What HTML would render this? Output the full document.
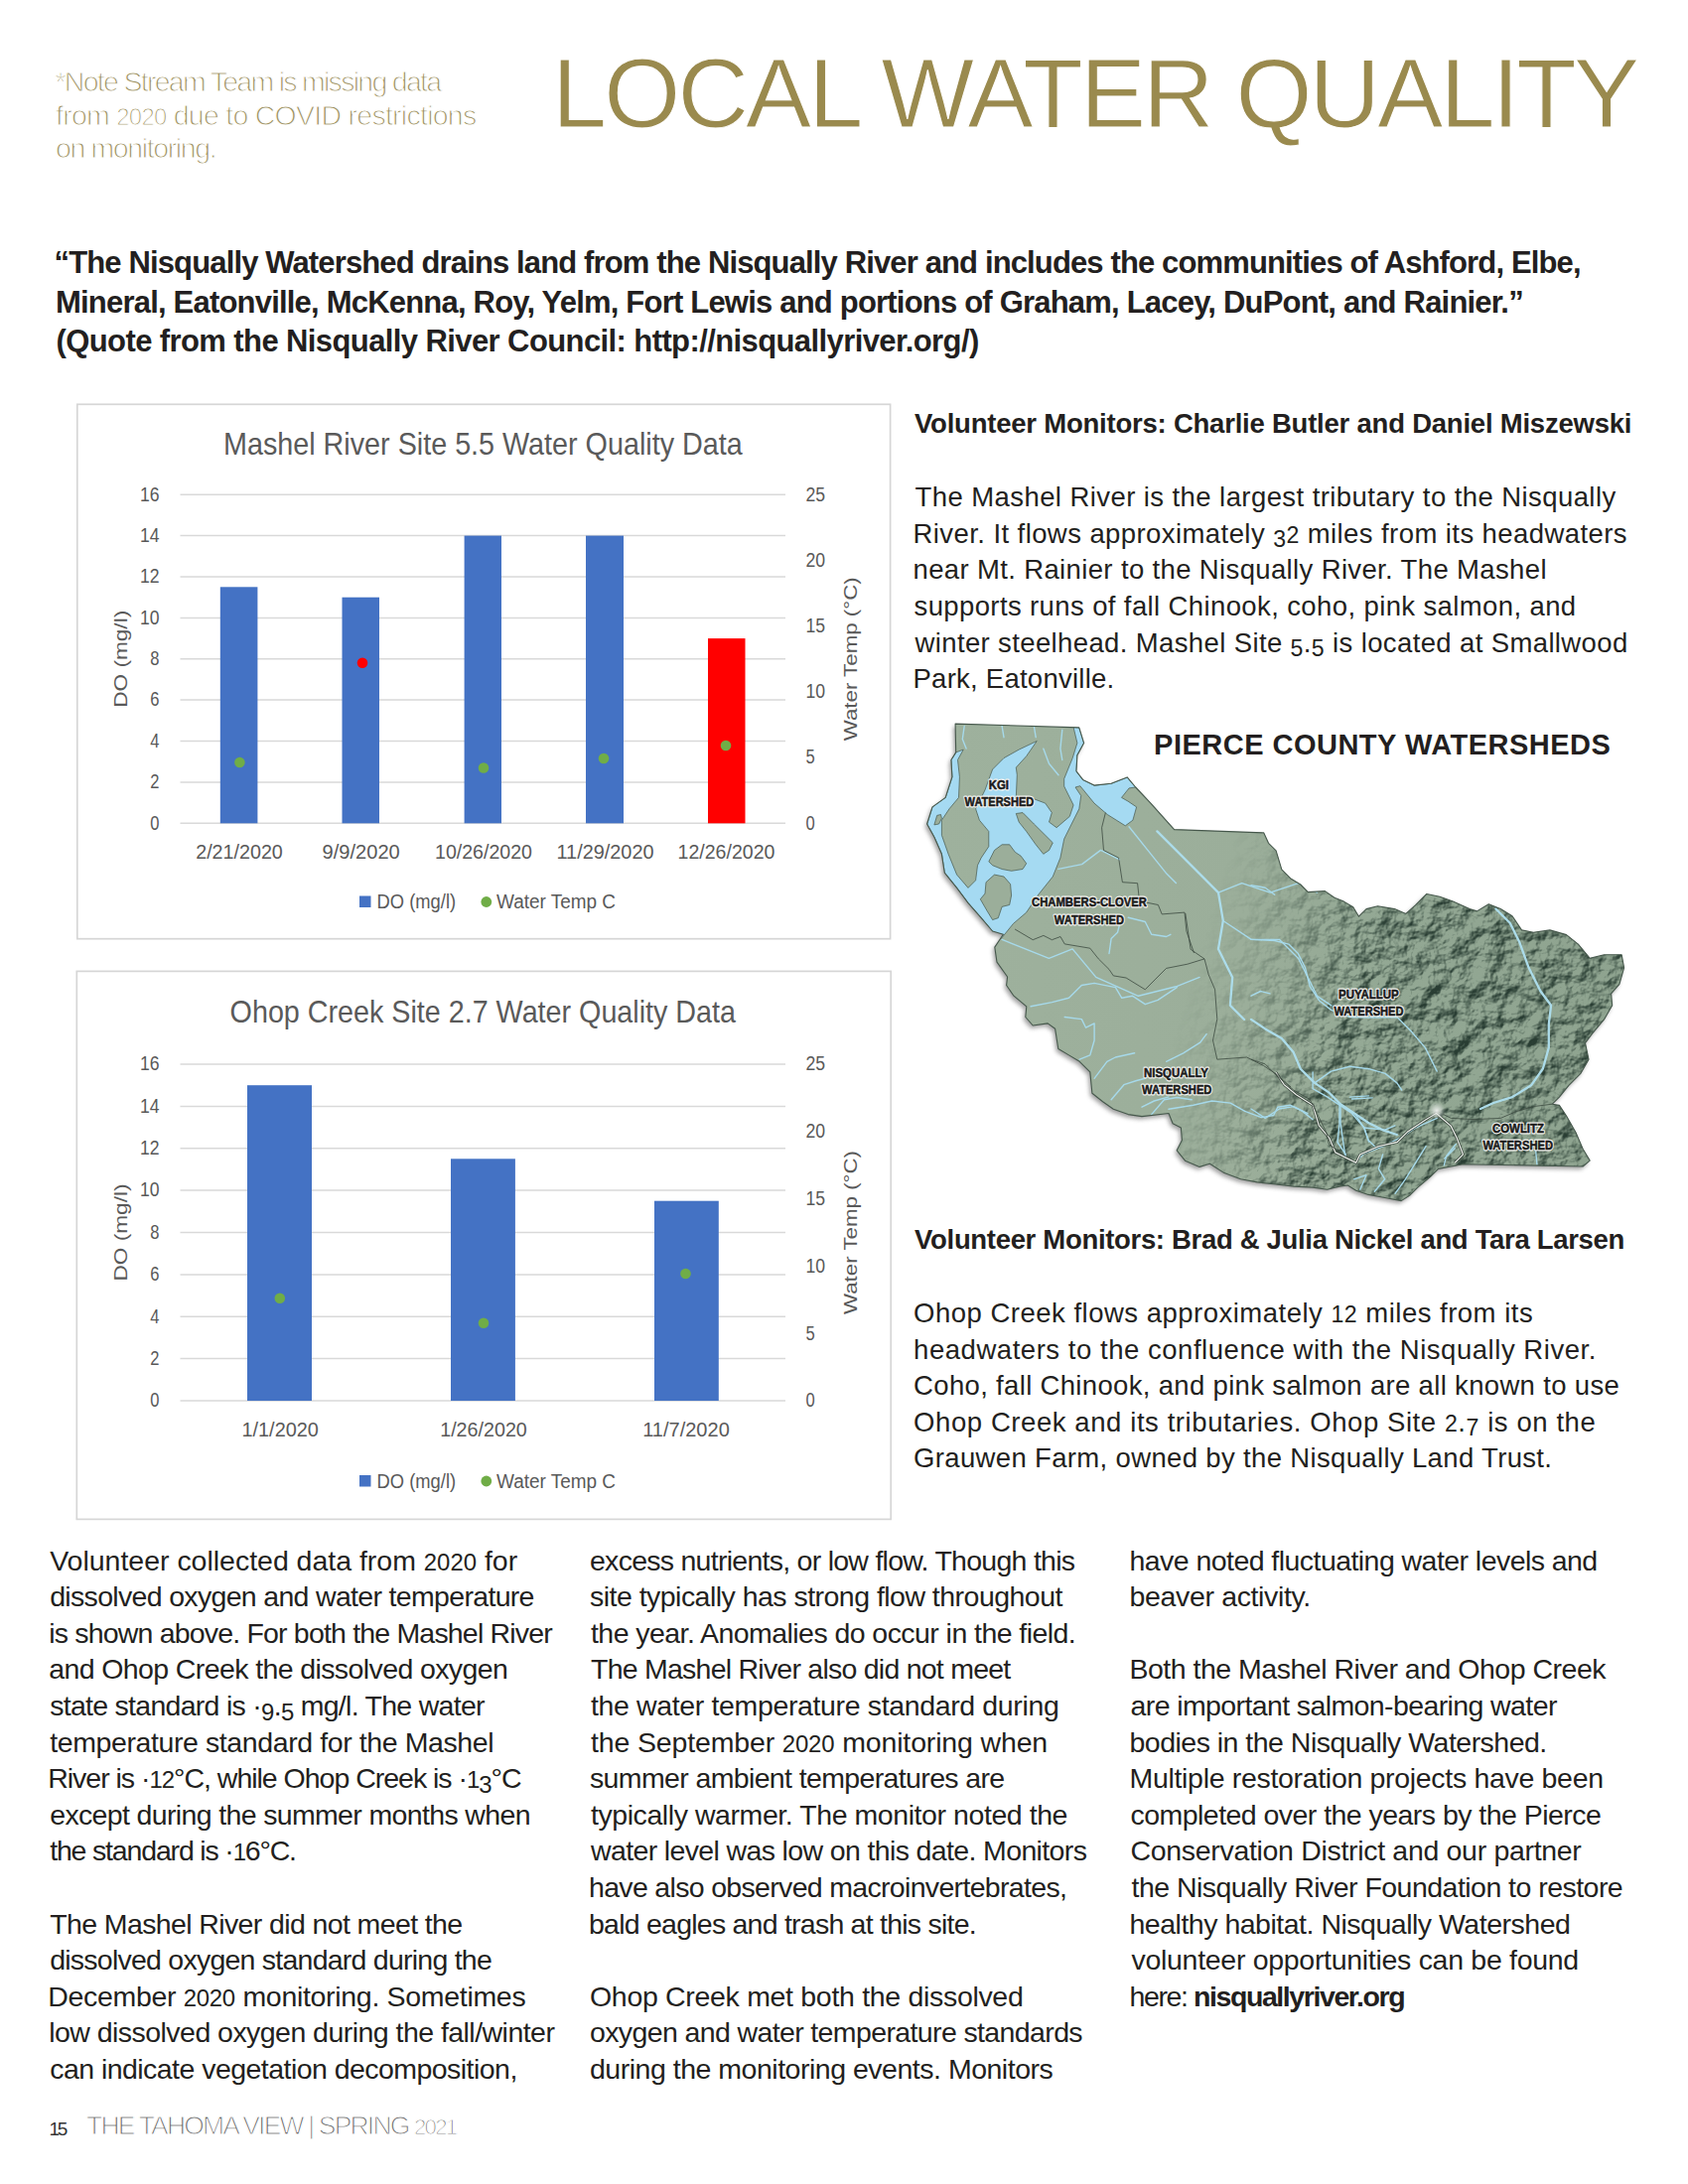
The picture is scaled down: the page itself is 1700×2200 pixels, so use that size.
<!DOCTYPE html>
<html lang="en"><head><meta charset="utf-8"><title>Local Water Quality</title>
<style>

html,body{margin:0;padding:0;background:#fff;}
#pg{position:relative;width:1700px;height:2200px;overflow:hidden;background:#fff;font-family:"Liberation Sans",sans-serif;}
.ln{position:absolute;white-space:nowrap;line-height:1;color:#231f20;}
.b{font-size:28.5px;}
.r{font-size:27.5px;}
.h{font-size:27.5px;font-weight:700;}
.q{font-size:31px;font-weight:700;}
.note{font-size:28.5px;color:#9c8f5e;-webkit-text-stroke:1.05px #fff;}
.title{font-size:99px;color:#9a8a4e;-webkit-text-stroke:1px #fff;}
.mt{font-size:29px;font-weight:700;}
.fn{font-size:19px;color:#333;}
.ft{font-size:26.5px;color:#6a6a6a;-webkit-text-stroke:1.1px #fff;}
svg{position:absolute;overflow:visible;}
svg text{font-family:"Liberation Sans",sans-serif;}
i.o{font-style:normal;font-size:84%;}
i.d{position:relative;top:0.2em;}

</style></head>
<body><div id="pg">
<svg id="charts" width="1700" height="2200" viewBox="0 0 1700 2200" style="left:0;top:0">
<rect x="77.8" y="407.3" width="818.8" height="538.4" fill="#fff" stroke="#d6d6d6" stroke-width="1.7"/>
<text x="225.0" y="458.0" font-size="30.5" fill="#5a5a5a" textLength="522.7" lengthAdjust="spacingAndGlyphs">Mashel River Site 5.5 Water Quality Data</text>
<line x1="181.5" y1="829.3" x2="791.0" y2="829.3" stroke="#d9d9d9" stroke-width="1.5"/>
<text x="160.5" y="835.6" font-size="20.5" fill="#595959" text-anchor="end" textLength="9.2" lengthAdjust="spacingAndGlyphs">0</text>
<line x1="181.5" y1="787.9" x2="791.0" y2="787.9" stroke="#d9d9d9" stroke-width="1.5"/>
<text x="160.5" y="794.2" font-size="20.5" fill="#595959" text-anchor="end" textLength="9.2" lengthAdjust="spacingAndGlyphs">2</text>
<line x1="181.5" y1="746.5" x2="791.0" y2="746.5" stroke="#d9d9d9" stroke-width="1.5"/>
<text x="160.5" y="752.8" font-size="20.5" fill="#595959" text-anchor="end" textLength="9.2" lengthAdjust="spacingAndGlyphs">4</text>
<line x1="181.5" y1="705.1" x2="791.0" y2="705.1" stroke="#d9d9d9" stroke-width="1.5"/>
<text x="160.5" y="711.4" font-size="20.5" fill="#595959" text-anchor="end" textLength="9.2" lengthAdjust="spacingAndGlyphs">6</text>
<line x1="181.5" y1="663.8" x2="791.0" y2="663.8" stroke="#d9d9d9" stroke-width="1.5"/>
<text x="160.5" y="670.0" font-size="20.5" fill="#595959" text-anchor="end" textLength="9.2" lengthAdjust="spacingAndGlyphs">8</text>
<line x1="181.5" y1="622.4" x2="791.0" y2="622.4" stroke="#d9d9d9" stroke-width="1.5"/>
<text x="160.5" y="628.7" font-size="20.5" fill="#595959" text-anchor="end" textLength="19.6" lengthAdjust="spacingAndGlyphs">10</text>
<line x1="181.5" y1="581.0" x2="791.0" y2="581.0" stroke="#d9d9d9" stroke-width="1.5"/>
<text x="160.5" y="587.3" font-size="20.5" fill="#595959" text-anchor="end" textLength="19.6" lengthAdjust="spacingAndGlyphs">12</text>
<line x1="181.5" y1="539.6" x2="791.0" y2="539.6" stroke="#d9d9d9" stroke-width="1.5"/>
<text x="160.5" y="545.9" font-size="20.5" fill="#595959" text-anchor="end" textLength="19.6" lengthAdjust="spacingAndGlyphs">14</text>
<line x1="181.5" y1="498.2" x2="791.0" y2="498.2" stroke="#d9d9d9" stroke-width="1.5"/>
<text x="160.5" y="504.5" font-size="20.5" fill="#595959" text-anchor="end" textLength="19.6" lengthAdjust="spacingAndGlyphs">16</text>
<text x="811.5" y="504.5" font-size="20.5" fill="#595959" textLength="19.6" lengthAdjust="spacingAndGlyphs">25</text>
<text x="811.5" y="570.7" font-size="20.5" fill="#595959" textLength="19.6" lengthAdjust="spacingAndGlyphs">20</text>
<text x="811.5" y="636.9" font-size="20.5" fill="#595959" textLength="19.6" lengthAdjust="spacingAndGlyphs">15</text>
<text x="811.5" y="703.2" font-size="20.5" fill="#595959" textLength="19.6" lengthAdjust="spacingAndGlyphs">10</text>
<text x="811.5" y="769.4" font-size="20.5" fill="#595959" textLength="9.2" lengthAdjust="spacingAndGlyphs">5</text>
<text x="811.5" y="835.6" font-size="20.5" fill="#595959" textLength="9.2" lengthAdjust="spacingAndGlyphs">0</text>
<rect x="221.8" y="591.3" width="37.6" height="238.0" fill="#4472c4"/>
<rect x="344.5" y="601.7" width="37.5" height="227.6" fill="#4472c4"/>
<rect x="467.6" y="539.6" width="37.4" height="289.7" fill="#4472c4"/>
<rect x="590.0" y="539.6" width="38.0" height="289.7" fill="#4472c4"/>
<rect x="713.0" y="643.1" width="37.5" height="186.2" fill="#ff0000"/>
<circle cx="241.4" cy="768.0" r="5.3" fill="#70ad47"/>
<circle cx="365.0" cy="667.8" r="5.3" fill="#ff0000"/>
<circle cx="487.0" cy="773.5" r="5.3" fill="#70ad47"/>
<circle cx="608.0" cy="764.0" r="5.3" fill="#70ad47"/>
<circle cx="731.0" cy="751.0" r="5.3" fill="#70ad47"/>
<text x="241.0" y="864.6" font-size="20.5" fill="#595959" text-anchor="middle" textLength="87.6" lengthAdjust="spacingAndGlyphs">2/21/2020</text>
<text x="363.7" y="864.6" font-size="20.5" fill="#595959" text-anchor="middle" textLength="78.2" lengthAdjust="spacingAndGlyphs">9/9/2020</text>
<text x="487.0" y="864.6" font-size="20.5" fill="#595959" text-anchor="middle" textLength="98.0" lengthAdjust="spacingAndGlyphs">10/26/2020</text>
<text x="609.5" y="864.6" font-size="20.5" fill="#595959" text-anchor="middle" textLength="98.0" lengthAdjust="spacingAndGlyphs">11/29/2020</text>
<text x="731.5" y="864.6" font-size="20.5" fill="#595959" text-anchor="middle" textLength="98.0" lengthAdjust="spacingAndGlyphs">12/26/2020</text>
<text transform="translate(128.0,663.8) rotate(-90)" font-size="19" fill="#595959" text-anchor="middle" textLength="98" lengthAdjust="spacingAndGlyphs">DO (mg/l)</text>
<text transform="translate(862.5,663.8) rotate(-90)" font-size="19" fill="#595959" text-anchor="middle" textLength="165" lengthAdjust="spacingAndGlyphs">Water Temp (°C)</text>
<rect x="362" y="902.5" width="11.5" height="11.5" fill="#4472c4"/>
<text x="379.6" y="915.0" font-size="19.5" fill="#595959" textLength="79.5" lengthAdjust="spacingAndGlyphs">DO (mg/l)</text>
<circle cx="489.8" cy="908.5" r="5.4" fill="#70ad47"/>
<text x="500" y="915.0" font-size="19.5" fill="#595959" textLength="120" lengthAdjust="spacingAndGlyphs">Water Temp C</text>
<rect x="77.3" y="978.4" width="819.9" height="552.0" fill="#fff" stroke="#d6d6d6" stroke-width="1.7"/>
<text x="231.6" y="1030.3" font-size="30.5" fill="#5a5a5a" textLength="509.4" lengthAdjust="spacingAndGlyphs">Ohop Creek Site 2.7 Water Quality Data</text>
<line x1="181.5" y1="1411.0" x2="791.0" y2="1411.0" stroke="#d9d9d9" stroke-width="1.5"/>
<text x="160.5" y="1417.3" font-size="20.5" fill="#595959" text-anchor="end" textLength="9.2" lengthAdjust="spacingAndGlyphs">0</text>
<line x1="181.5" y1="1368.6" x2="791.0" y2="1368.6" stroke="#d9d9d9" stroke-width="1.5"/>
<text x="160.5" y="1374.9" font-size="20.5" fill="#595959" text-anchor="end" textLength="9.2" lengthAdjust="spacingAndGlyphs">2</text>
<line x1="181.5" y1="1326.2" x2="791.0" y2="1326.2" stroke="#d9d9d9" stroke-width="1.5"/>
<text x="160.5" y="1332.5" font-size="20.5" fill="#595959" text-anchor="end" textLength="9.2" lengthAdjust="spacingAndGlyphs">4</text>
<line x1="181.5" y1="1283.9" x2="791.0" y2="1283.9" stroke="#d9d9d9" stroke-width="1.5"/>
<text x="160.5" y="1290.2" font-size="20.5" fill="#595959" text-anchor="end" textLength="9.2" lengthAdjust="spacingAndGlyphs">6</text>
<line x1="181.5" y1="1241.5" x2="791.0" y2="1241.5" stroke="#d9d9d9" stroke-width="1.5"/>
<text x="160.5" y="1247.8" font-size="20.5" fill="#595959" text-anchor="end" textLength="9.2" lengthAdjust="spacingAndGlyphs">8</text>
<line x1="181.5" y1="1199.1" x2="791.0" y2="1199.1" stroke="#d9d9d9" stroke-width="1.5"/>
<text x="160.5" y="1205.4" font-size="20.5" fill="#595959" text-anchor="end" textLength="19.6" lengthAdjust="spacingAndGlyphs">10</text>
<line x1="181.5" y1="1156.8" x2="791.0" y2="1156.8" stroke="#d9d9d9" stroke-width="1.5"/>
<text x="160.5" y="1163.0" font-size="20.5" fill="#595959" text-anchor="end" textLength="19.6" lengthAdjust="spacingAndGlyphs">12</text>
<line x1="181.5" y1="1114.4" x2="791.0" y2="1114.4" stroke="#d9d9d9" stroke-width="1.5"/>
<text x="160.5" y="1120.7" font-size="20.5" fill="#595959" text-anchor="end" textLength="19.6" lengthAdjust="spacingAndGlyphs">14</text>
<line x1="181.5" y1="1072.0" x2="791.0" y2="1072.0" stroke="#d9d9d9" stroke-width="1.5"/>
<text x="160.5" y="1078.3" font-size="20.5" fill="#595959" text-anchor="end" textLength="19.6" lengthAdjust="spacingAndGlyphs">16</text>
<text x="811.5" y="1078.3" font-size="20.5" fill="#595959" textLength="19.6" lengthAdjust="spacingAndGlyphs">25</text>
<text x="811.5" y="1146.1" font-size="20.5" fill="#595959" textLength="19.6" lengthAdjust="spacingAndGlyphs">20</text>
<text x="811.5" y="1213.9" font-size="20.5" fill="#595959" textLength="19.6" lengthAdjust="spacingAndGlyphs">15</text>
<text x="811.5" y="1281.7" font-size="20.5" fill="#595959" textLength="19.6" lengthAdjust="spacingAndGlyphs">10</text>
<text x="811.5" y="1349.5" font-size="20.5" fill="#595959" textLength="9.2" lengthAdjust="spacingAndGlyphs">5</text>
<text x="811.5" y="1417.3" font-size="20.5" fill="#595959" textLength="9.2" lengthAdjust="spacingAndGlyphs">0</text>
<rect x="249.0" y="1093.2" width="65.0" height="317.8" fill="#4472c4"/>
<rect x="454.0" y="1167.3" width="64.9" height="243.7" fill="#4472c4"/>
<rect x="659.0" y="1209.7" width="64.8" height="201.3" fill="#4472c4"/>
<circle cx="281.8" cy="1307.7" r="5.3" fill="#70ad47"/>
<circle cx="487.0" cy="1332.8" r="5.3" fill="#70ad47"/>
<circle cx="690.5" cy="1283.0" r="5.3" fill="#70ad47"/>
<text x="282.2" y="1447.0" font-size="20.5" fill="#595959" text-anchor="middle" textLength="77.5" lengthAdjust="spacingAndGlyphs">1/1/2020</text>
<text x="487.0" y="1447.0" font-size="20.5" fill="#595959" text-anchor="middle" textLength="87.6" lengthAdjust="spacingAndGlyphs">1/26/2020</text>
<text x="691.0" y="1447.0" font-size="20.5" fill="#595959" text-anchor="middle" textLength="87.6" lengthAdjust="spacingAndGlyphs">11/7/2020</text>
<text transform="translate(128.0,1241.5) rotate(-90)" font-size="19" fill="#595959" text-anchor="middle" textLength="98" lengthAdjust="spacingAndGlyphs">DO (mg/l)</text>
<text transform="translate(862.5,1241.5) rotate(-90)" font-size="19" fill="#595959" text-anchor="middle" textLength="165" lengthAdjust="spacingAndGlyphs">Water Temp (°C)</text>
<rect x="362" y="1486.0" width="11.5" height="11.5" fill="#4472c4"/>
<text x="379.6" y="1498.5" font-size="19.5" fill="#595959" textLength="79.5" lengthAdjust="spacingAndGlyphs">DO (mg/l)</text>
<circle cx="489.8" cy="1492.0" r="5.4" fill="#70ad47"/>
<text x="500" y="1498.5" font-size="19.5" fill="#595959" textLength="120" lengthAdjust="spacingAndGlyphs">Water Temp C</text>
</svg>
<svg id="map" width="1700" height="2200" viewBox="0 0 1700 2200" style="left:0;top:0">
<defs>
<clipPath id="mclip"><path d="M962.1 729.1 L1086.8 732.9 L1091.6 748.4 L1084.9 760.8 L1084.0 776.9 L1090.6 785.4 L1102.0 791.1 L1119.1 789.2 L1135.2 782.9 L1143.7 793.0 L1158.9 809.1 L1182.6 835.6 L1272.8 838.9 L1277.5 849.3 L1285.1 856.9 L1290.8 875.8 L1300.3 885.3 L1309.8 891.0 L1317.3 898.6 L1334.4 897.6 L1343.9 904.3 L1353.4 908.1 L1362.8 913.7 L1368.5 923.2 L1376.1 915.6 L1387.5 912.8 L1404.5 915.6 L1415.9 920.4 L1425.4 911.8 L1436.8 900.5 L1450.0 903.3 L1463.3 908.1 L1480.0 915.6 L1487.5 917.9 L1499.3 910.8 L1511.2 915.5 L1523.0 922.7 L1532.5 936.9 L1544.4 939.2 L1560.9 936.9 L1577.5 941.6 L1589.4 951.1 L1601.2 965.3 L1615.5 961.8 L1633.2 961.8 L1635.6 974.8 L1630.9 991.4 L1622.6 1000.9 L1623.7 1012.7 L1615.5 1026.9 L1603.6 1041.1 L1596.5 1050.6 L1600.0 1067.2 L1591.8 1081.4 L1579.9 1093.3 L1570.4 1105.1 L1563.3 1112.2 L1570.4 1113.4 L1577.5 1124.1 L1587.0 1140.7 L1594.1 1157.3 L1601.2 1169.1 L1594.1 1175.0 L1473.3 1172.7 L1448.6 1177.4 L1440.3 1185.7 L1427.8 1196.1 L1419.5 1204.4 L1411.2 1209.6 L1394.7 1206.5 L1378.1 1203.4 L1365.6 1199.2 L1357.3 1194.0 L1349.0 1195.1 L1336.6 1198.2 L1322.1 1196.1 L1303.4 1195.1 L1284.8 1193.0 L1266.1 1190.9 L1249.5 1187.8 L1232.9 1181.6 L1218.4 1172.3 L1208.1 1175.4 L1193.5 1169.2 L1185.2 1158.8 L1190.4 1148.4 L1189.4 1136.0 L1181.1 1131.8 L1177.0 1121.5 L1150.0 1124.6 L1136.2 1122.6 L1121.3 1117.3 L1110.6 1109.8 L1099.9 1101.3 L1097.8 1079.9 L1087.2 1069.3 L1076.5 1062.9 L1065.8 1056.5 L1062.6 1036.2 L1055.2 1030.9 L1040.2 1033.0 L1032.8 1024.5 L1033.8 1013.8 L1021.0 1003.2 L1013.6 992.5 L1014.6 984.0 L1004.0 969.1 L1001.8 954.1 L1010.4 941.3 L999.6 938.0 L988.2 924.7 L975.0 909.6 L963.6 894.4 L951.3 879.2 L948.4 860.3 L940.9 843.2 L933.6 830.0 L939.0 812.9 L952.2 803.4 L958.9 782.6 L957.9 765.5 L962.7 757.9 Z"/></clipPath>
<linearGradient id="land" x1="940" y1="0" x2="1640" y2="0" gradientUnits="userSpaceOnUse">
<stop offset="0" stop-color="#9eb19d"/><stop offset="0.45" stop-color="#9bae9a"/><stop offset="0.65" stop-color="#93a894"/><stop offset="1" stop-color="#8ea38f"/></linearGradient>
<linearGradient id="mg" x1="1240" y1="850" x2="1410" y2="901" gradientUnits="userSpaceOnUse">
<stop offset="0" stop-color="#000"/><stop offset="0.3" stop-color="#303030"/><stop offset="0.6" stop-color="#777"/><stop offset="0.85" stop-color="#ddd"/><stop offset="1" stop-color="#fff"/></linearGradient>
<mask id="mmask" maskUnits="userSpaceOnUse" x="900" y="700" width="800" height="540"><rect x="900" y="700" width="800" height="540" fill="url(#mg)"/></mask>
<filter id="relief" x="900" y="700" width="800" height="540" filterUnits="userSpaceOnUse" color-interpolation-filters="sRGB">
<feTurbulence type="fractalNoise" baseFrequency="0.045 0.05" numOctaves="6" seed="11" result="n"/>
<feDiffuseLighting in="n" surfaceScale="7" diffuseConstant="1.05" lighting-color="#ffffff" result="l"><feDistantLight azimuth="225" elevation="42"/></feDiffuseLighting>
<feColorMatrix in="l" type="matrix" values="0 0 0 0 0.16  0 0 0 0 0.24  0 0 0 0 0.2  -1.25 0 0 0 1.06"/>
</filter>
<radialGradient id="peak"><stop offset="0" stop-color="#f4f4f2" stop-opacity="0.95"/><stop offset="0.5" stop-color="#dfe5e0" stop-opacity="0.55"/><stop offset="1" stop-color="#c8d2ca" stop-opacity="0"/></radialGradient>
<filter id="shadow" x="900" y="700" width="800" height="560" filterUnits="userSpaceOnUse"><feGaussianBlur stdDeviation="2.2"/></filter>
</defs>
<path d="M962.1 729.1 L1086.8 732.9 L1091.6 748.4 L1084.9 760.8 L1084.0 776.9 L1090.6 785.4 L1102.0 791.1 L1119.1 789.2 L1135.2 782.9 L1143.7 793.0 L1158.9 809.1 L1182.6 835.6 L1272.8 838.9 L1277.5 849.3 L1285.1 856.9 L1290.8 875.8 L1300.3 885.3 L1309.8 891.0 L1317.3 898.6 L1334.4 897.6 L1343.9 904.3 L1353.4 908.1 L1362.8 913.7 L1368.5 923.2 L1376.1 915.6 L1387.5 912.8 L1404.5 915.6 L1415.9 920.4 L1425.4 911.8 L1436.8 900.5 L1450.0 903.3 L1463.3 908.1 L1480.0 915.6 L1487.5 917.9 L1499.3 910.8 L1511.2 915.5 L1523.0 922.7 L1532.5 936.9 L1544.4 939.2 L1560.9 936.9 L1577.5 941.6 L1589.4 951.1 L1601.2 965.3 L1615.5 961.8 L1633.2 961.8 L1635.6 974.8 L1630.9 991.4 L1622.6 1000.9 L1623.7 1012.7 L1615.5 1026.9 L1603.6 1041.1 L1596.5 1050.6 L1600.0 1067.2 L1591.8 1081.4 L1579.9 1093.3 L1570.4 1105.1 L1563.3 1112.2 L1570.4 1113.4 L1577.5 1124.1 L1587.0 1140.7 L1594.1 1157.3 L1601.2 1169.1 L1594.1 1175.0 L1473.3 1172.7 L1448.6 1177.4 L1440.3 1185.7 L1427.8 1196.1 L1419.5 1204.4 L1411.2 1209.6 L1394.7 1206.5 L1378.1 1203.4 L1365.6 1199.2 L1357.3 1194.0 L1349.0 1195.1 L1336.6 1198.2 L1322.1 1196.1 L1303.4 1195.1 L1284.8 1193.0 L1266.1 1190.9 L1249.5 1187.8 L1232.9 1181.6 L1218.4 1172.3 L1208.1 1175.4 L1193.5 1169.2 L1185.2 1158.8 L1190.4 1148.4 L1189.4 1136.0 L1181.1 1131.8 L1177.0 1121.5 L1150.0 1124.6 L1136.2 1122.6 L1121.3 1117.3 L1110.6 1109.8 L1099.9 1101.3 L1097.8 1079.9 L1087.2 1069.3 L1076.5 1062.9 L1065.8 1056.5 L1062.6 1036.2 L1055.2 1030.9 L1040.2 1033.0 L1032.8 1024.5 L1033.8 1013.8 L1021.0 1003.2 L1013.6 992.5 L1014.6 984.0 L1004.0 969.1 L1001.8 954.1 L1010.4 941.3 L999.6 938.0 L988.2 924.7 L975.0 909.6 L963.6 894.4 L951.3 879.2 L948.4 860.3 L940.9 843.2 L933.6 830.0 L939.0 812.9 L952.2 803.4 L958.9 782.6 L957.9 765.5 L962.7 757.9 Z" fill="#555" opacity="0.55" transform="translate(-2,3)" filter="url(#shadow)"/>
<path d="M962.1 729.1 L1086.8 732.9 L1091.6 748.4 L1084.9 760.8 L1084.0 776.9 L1090.6 785.4 L1102.0 791.1 L1119.1 789.2 L1135.2 782.9 L1143.7 793.0 L1158.9 809.1 L1182.6 835.6 L1272.8 838.9 L1277.5 849.3 L1285.1 856.9 L1290.8 875.8 L1300.3 885.3 L1309.8 891.0 L1317.3 898.6 L1334.4 897.6 L1343.9 904.3 L1353.4 908.1 L1362.8 913.7 L1368.5 923.2 L1376.1 915.6 L1387.5 912.8 L1404.5 915.6 L1415.9 920.4 L1425.4 911.8 L1436.8 900.5 L1450.0 903.3 L1463.3 908.1 L1480.0 915.6 L1487.5 917.9 L1499.3 910.8 L1511.2 915.5 L1523.0 922.7 L1532.5 936.9 L1544.4 939.2 L1560.9 936.9 L1577.5 941.6 L1589.4 951.1 L1601.2 965.3 L1615.5 961.8 L1633.2 961.8 L1635.6 974.8 L1630.9 991.4 L1622.6 1000.9 L1623.7 1012.7 L1615.5 1026.9 L1603.6 1041.1 L1596.5 1050.6 L1600.0 1067.2 L1591.8 1081.4 L1579.9 1093.3 L1570.4 1105.1 L1563.3 1112.2 L1570.4 1113.4 L1577.5 1124.1 L1587.0 1140.7 L1594.1 1157.3 L1601.2 1169.1 L1594.1 1175.0 L1473.3 1172.7 L1448.6 1177.4 L1440.3 1185.7 L1427.8 1196.1 L1419.5 1204.4 L1411.2 1209.6 L1394.7 1206.5 L1378.1 1203.4 L1365.6 1199.2 L1357.3 1194.0 L1349.0 1195.1 L1336.6 1198.2 L1322.1 1196.1 L1303.4 1195.1 L1284.8 1193.0 L1266.1 1190.9 L1249.5 1187.8 L1232.9 1181.6 L1218.4 1172.3 L1208.1 1175.4 L1193.5 1169.2 L1185.2 1158.8 L1190.4 1148.4 L1189.4 1136.0 L1181.1 1131.8 L1177.0 1121.5 L1150.0 1124.6 L1136.2 1122.6 L1121.3 1117.3 L1110.6 1109.8 L1099.9 1101.3 L1097.8 1079.9 L1087.2 1069.3 L1076.5 1062.9 L1065.8 1056.5 L1062.6 1036.2 L1055.2 1030.9 L1040.2 1033.0 L1032.8 1024.5 L1033.8 1013.8 L1021.0 1003.2 L1013.6 992.5 L1014.6 984.0 L1004.0 969.1 L1001.8 954.1 L1010.4 941.3 L999.6 938.0 L988.2 924.7 L975.0 909.6 L963.6 894.4 L951.3 879.2 L948.4 860.3 L940.9 843.2 L933.6 830.0 L939.0 812.9 L952.2 803.4 L958.9 782.6 L957.9 765.5 L962.7 757.9 Z" fill="url(#land)"/>
<g clip-path="url(#mclip)">
<g mask="url(#mmask)"><rect x="900" y="700" width="800" height="540" filter="url(#relief)"/></g>
<path d="M962.7 757.9 L957.9 765.5 L958.9 782.6 L952.2 803.4 L939.0 812.9 L933.6 830.0 L940.9 843.2 L948.4 860.3 L951.3 879.2 L963.6 894.4 L975.0 909.6 L988.2 924.7 L999.6 938.0 L1008.2 945.6 L1020.5 930.4 L1033.7 919.1 L1045.1 902.0 L1060.3 883.0 L1067.9 864.1 L1071.7 845.1 L1079.2 830.0 L1086.8 814.8 L1088.7 801.5 L1083.0 793.0 L1087.8 791.7 L1102.0 809.1 L1115.3 820.5 L1133.3 831.8 L1140.9 826.2 L1144.6 812.9 L1136.1 807.2 L1129.5 803.4 L1137.1 793.9 L1143.7 793.0 L1135.2 782.9 L1119.1 789.2 L1102.0 791.1 L1090.6 785.4 L1084.0 776.9 L1084.9 760.8 L1091.6 748.4 L1086.8 732.9 L1081.1 732.5 L1084.9 748.4 L1080.2 763.6 L1071.7 784.5 L1071.7 792.0 L1081.1 811.0 L1077.3 822.4 L1064.1 833.7 L1056.5 828.1 L1059.3 818.6 L1052.7 809.1 L1037.5 803.4 L1023.3 803.4 L1024.3 780.7 L1023.3 773.1 L1033.7 761.7 L1044.2 746.5 L1026.2 755.1 L1011.0 763.6 L999.6 775.0 L992.0 795.8 L982.6 814.8 L986.4 826.2 L995.8 837.5 L995.8 852.7 L988.2 864.1 L984.5 871.7 L982.6 886.8 L975.0 894.4 L963.6 881.1 L955.1 860.3 L948.4 841.3 L948.4 826.2 L956.0 814.8 L965.5 803.4 L966.4 782.6 L964.5 765.5 L970.2 755.1 Z" fill="#a5daf2" stroke="#46584c" stroke-width="0.7" stroke-linejoin="round"/>
<path d="M1023.3 819.5 L1030.0 818.6 L1041.3 830.0 L1052.7 841.3 L1060.3 848.9 L1056.5 856.5 L1050.8 860.3 L1043.2 850.8 L1033.7 837.5 L1026.2 828.1 Z" fill="#9bae9a" stroke="#46584c" stroke-width="0.7"/>
<path d="M995.8 867.9 L1001.5 856.5 L1009.1 850.8 L1016.7 850.8 L1022.4 858.4 L1028.1 862.2 L1033.7 869.8 L1030.0 875.5 L1018.6 877.3 L1009.1 875.5 L999.6 871.7 Z" fill="#9bae9a" stroke="#46584c" stroke-width="0.7"/>
<path d="M1001.5 881.1 L1011.0 883.0 L1017.6 890.6 L1018.6 902.0 L1016.7 911.5 L1009.1 913.4 L1005.3 924.7 L999.6 926.6 L993.9 917.2 L987.3 905.8 L992.0 900.1 L993.0 888.7 Z" fill="#9bae9a" stroke="#46584c" stroke-width="0.7"/>
<path d="M943.7 821.4 L947.5 820.5 L948.4 824.3 L945.6 830.0 L940.9 830.9 Z" fill="#9bae9a" stroke="#46584c" stroke-width="0.7"/>
<path d="M1260.0 946.4 L1283.7 947.5 L1297.9 951.1 L1307.4 960.6 L1314.5 974.8 L1319.2 993.7 L1328.7 1008.0 L1340.6 1017.4 L1359.5 1024.5 L1383.2 1025.0 L1406.9 1024.5 L1421.1 1038.8 L1435.4 1055.4 L1442.5 1069.6 L1447.2 1079.1" fill="none" stroke="#a6d9ea" stroke-width="1.4" stroke-linejoin="round" stroke-linecap="round"/>
<path d="M1324.0 1090.9 L1340.6 1079.1 L1359.5 1074.3 L1378.5 1076.7 L1395.1 1081.4 L1406.9 1090.9 L1411.7 1098.0" fill="none" stroke="#a6d9ea" stroke-width="1.4" stroke-linejoin="round" stroke-linecap="round"/>
<path d="M1350.0 1112.2 L1350.0 1131.2 L1352.4 1147.8 L1354.8 1164.4" fill="none" stroke="#a6d9ea" stroke-width="1.4" stroke-linejoin="round" stroke-linecap="round"/>
<path d="M1364.3 1121.7 L1373.7 1135.9 L1378.5 1150.1" fill="none" stroke="#a6d9ea" stroke-width="1.4" stroke-linejoin="round" stroke-linecap="round"/>
<path d="M1359.5 1105.1 L1378.5 1103.9" fill="none" stroke="#a6d9ea" stroke-width="1.4" stroke-linejoin="round" stroke-linecap="round"/>
<path d="M1447.2 1126.4 L1425.9 1135.9 L1411.7 1145.4 L1392.7 1154.9 L1373.7 1162.0 L1364.3 1171.5" fill="none" stroke="#a6d9ea" stroke-width="1.4" stroke-linejoin="round" stroke-linecap="round"/>
<path d="M1466.2 1152.5 L1456.7 1164.4 L1454.3 1173.8" fill="none" stroke="#a6d9ea" stroke-width="1.4" stroke-linejoin="round" stroke-linecap="round"/>
<path d="M1546.7 1159.6 L1547.9 1172.7" fill="none" stroke="#a6d9ea" stroke-width="1.4" stroke-linejoin="round" stroke-linecap="round"/>
<path d="M1260.0 1117.0 L1274.2 1126.4 L1288.4 1117.0 L1302.7 1114.6 L1316.9 1121.7" fill="none" stroke="#a6d9ea" stroke-width="1.4" stroke-linejoin="round" stroke-linecap="round"/>
<path d="M1260.0 891.8 L1274.2 894.2 L1283.7 901.3" fill="none" stroke="#a6d9ea" stroke-width="1.4" stroke-linejoin="round" stroke-linecap="round"/>
<path d="M1260.0 1003.2 L1269.5 998.5 L1279.0 1000.9" fill="none" stroke="#a6d9ea" stroke-width="1.4" stroke-linejoin="round" stroke-linecap="round"/>
<path d="M1150.0 1115.2 L1162.4 1109.0 L1177.0 1104.9" fill="none" stroke="#a6d9ea" stroke-width="1.4" stroke-linejoin="round" stroke-linecap="round"/>
<path d="M1177.0 1117.3 L1201.8 1113.2 L1220.5 1109.0 L1239.2 1111.1 L1253.7 1119.4 L1270.3 1125.6 L1282.7 1123.5 L1286.8 1115.2 L1299.3 1113.2 L1311.7 1119.4 L1322.1 1127.7" fill="none" stroke="#a6d9ea" stroke-width="1.4" stroke-linejoin="round" stroke-linecap="round"/>
<path d="M1322.1 1080.0 L1322.1 1096.6 L1336.6 1104.9 L1349.0 1113.2 L1349.0 1131.8 L1347.0 1150.5 L1355.3 1162.9" fill="none" stroke="#a6d9ea" stroke-width="1.4" stroke-linejoin="round" stroke-linecap="round"/>
<path d="M1349.0 1113.2 L1361.5 1121.5 L1373.9 1136.0 L1378.1 1148.4 L1384.3 1154.6" fill="none" stroke="#a6d9ea" stroke-width="1.4" stroke-linejoin="round" stroke-linecap="round"/>
<path d="M1361.5 1107.0 L1382.2 1105.9" fill="none" stroke="#a6d9ea" stroke-width="1.4" stroke-linejoin="round" stroke-linecap="round"/>
<path d="M1373.9 1136.0 L1394.7 1138.1 L1405.0 1133.9" fill="none" stroke="#a6d9ea" stroke-width="1.4" stroke-linejoin="round" stroke-linecap="round"/>
<path d="M1363.6 1187.8 L1376.0 1183.7 L1369.8 1198.2" fill="none" stroke="#a6d9ea" stroke-width="1.4" stroke-linejoin="round" stroke-linecap="round"/>
<path d="M1392.6 1162.9 L1388.4 1177.4 L1394.7 1187.8 L1384.3 1200.3" fill="none" stroke="#a6d9ea" stroke-width="1.4" stroke-linejoin="round" stroke-linecap="round"/>
<path d="M1436.1 1154.6 L1425.8 1171.2 L1415.4 1187.8 L1405.0 1202.3" fill="none" stroke="#a6d9ea" stroke-width="1.4" stroke-linejoin="round" stroke-linecap="round"/>
<path d="M1465.2 1156.7 L1454.8 1167.1" fill="none" stroke="#a6d9ea" stroke-width="1.4" stroke-linejoin="round" stroke-linecap="round"/>
<path d="M1227.0 899.1 L1250.7 889.6 L1279.1 899.1 L1307.6 889.6 L1326.5 899.1" fill="none" stroke="#a6d9ea" stroke-width="1.4" stroke-linejoin="round" stroke-linecap="round"/>
<path d="M1231.8 927.5 L1260.2 946.4 L1288.6 946.4 L1307.6 965.4 L1326.5 1003.3 L1340.8 1012.8" fill="none" stroke="#a6d9ea" stroke-width="1.4" stroke-linejoin="round" stroke-linecap="round"/>
<path d="M1009.0 946.4 L1056.4 965.4 L1080.1 955.9 L1103.8 984.4 L1146.4 1003.3 L1184.4 993.8 L1208.1 984.4" fill="none" stroke="#a6d9ea" stroke-width="1.4" stroke-linejoin="round" stroke-linecap="round"/>
<path d="M1065.9 875.4 L1089.6 870.6 L1108.5 856.4 L1127.5 865.9" fill="none" stroke="#a6d9ea" stroke-width="1.4" stroke-linejoin="round" stroke-linecap="round"/>
<path d="M1137.0 832.7 L1155.9 856.4 L1174.9 880.1 L1184.4 889.6" fill="none" stroke="#a6d9ea" stroke-width="1.4" stroke-linejoin="round" stroke-linecap="round"/>
<path d="M1038.1 1013.8 L1059.4 1009.6 L1076.5 1005.3 L1089.3 992.5 L1102.1 990.4 L1123.4 994.6 L1129.8 1005.3 L1140.5 1003.2 L1153.3 1011.7 L1166.1 1007.4 L1178.9 998.9 L1185.3 994.6" fill="none" stroke="#a6d9ea" stroke-width="1.4" stroke-linejoin="round" stroke-linecap="round"/>
<path d="M1072.2 1024.5 L1089.3 1026.6 L1093.6 1035.2 L1102.1 1030.9 L1102.1 1048.0 L1097.8 1062.9 L1087.2 1067.2" fill="none" stroke="#a6d9ea" stroke-width="1.4" stroke-linejoin="round" stroke-linecap="round"/>
<path d="M1102.1 1086.3 L1114.9 1069.3 L1123.4 1065.0 L1142.6 1060.8" fill="none" stroke="#a6d9ea" stroke-width="1.4" stroke-linejoin="round" stroke-linecap="round"/>
<path d="M1119.1 1107.7 L1131.9 1092.7 L1144.7 1088.5 L1153.3 1086.3" fill="none" stroke="#a6d9ea" stroke-width="1.4" stroke-linejoin="round" stroke-linecap="round"/>
<path d="M1159.7 1122.6 L1172.5 1107.7 L1185.3 1105.5 L1200.2 1107.7" fill="none" stroke="#a6d9ea" stroke-width="1.4" stroke-linejoin="round" stroke-linecap="round"/>
<path d="M1174.6 1069.3 L1191.7 1060.8 L1208.7 1050.1 L1215.1 1041.6" fill="none" stroke="#a6d9ea" stroke-width="1.4" stroke-linejoin="round" stroke-linecap="round"/>
<path d="M1117.0 960.5 L1119.1 945.6 L1125.5 939.2 L1127.7 930.7" fill="none" stroke="#a6d9ea" stroke-width="1.4" stroke-linejoin="round" stroke-linecap="round"/>
<path d="M1136.2 924.3 L1153.3 928.5 L1159.7 941.3 L1174.6 943.5 L1178.9 941.3" fill="none" stroke="#a6d9ea" stroke-width="1.4" stroke-linejoin="round" stroke-linecap="round"/>
<path d="M971.2 731.4 L969.3 744.6 L973.1 754.1" fill="none" stroke="#a6d9ea" stroke-width="1.4" stroke-linejoin="round" stroke-linecap="round"/>
<path d="M1009.1 731.4 L1011.0 742.7" fill="none" stroke="#a6d9ea" stroke-width="1.4" stroke-linejoin="round" stroke-linecap="round"/>
<path d="M1041.3 731.4 L1043.2 742.7" fill="none" stroke="#a6d9ea" stroke-width="1.4" stroke-linejoin="round" stroke-linecap="round"/>
<path d="M1050.8 754.1 L1056.5 769.3 L1066.0 780.7" fill="none" stroke="#a6d9ea" stroke-width="1.4" stroke-linejoin="round" stroke-linecap="round"/>
<path d="M1069.8 735.2 L1067.9 754.1 L1069.8 765.5" fill="none" stroke="#a6d9ea" stroke-width="1.4" stroke-linejoin="round" stroke-linecap="round"/>
<path d="M1506.4 915.5 L1520.7 929.8 L1530.1 948.7 L1539.6 974.8 L1551.5 998.5 L1562.1 1012.7 L1559.8 1031.7 L1559.8 1055.4 L1553.8 1076.7 L1542.0 1093.3 L1523.0 1105.1 L1504.1 1111.0 L1491.0 1117.0" fill="none" stroke="#acdcea" stroke-width="2.3" stroke-linejoin="round" stroke-linecap="round"/>
<path d="M1260.0 1026.9 L1274.2 1036.4 L1290.8 1045.9 L1302.7 1060.1 L1309.8 1076.7 L1324.0 1090.9 L1338.2 1100.4 L1350.0 1112.2 L1364.3 1121.7 L1378.5 1131.2 L1392.7 1138.3 L1406.9 1143.0" fill="none" stroke="#acdcea" stroke-width="2.3" stroke-linejoin="round" stroke-linecap="round"/>
<path d="M1165.4 837.4 L1184.4 856.4 L1208.1 880.1 L1227.0 899.1 L1231.8 927.5 L1227.0 955.9 L1241.2 984.4 L1238.9 1012.8 L1253.1 1027.0" fill="none" stroke="#acdcea" stroke-width="2.3" stroke-linejoin="round" stroke-linecap="round"/>
<path d="M1284.8 1080.0 L1293.1 1092.4 L1305.5 1102.8 L1322.1 1113.2 L1328.3 1133.9 L1338.7 1146.3 L1344.9 1160.9 L1357.3 1167.1 L1365.6 1171.2 L1369.8 1162.9 L1388.4 1154.6 L1407.1 1150.5 L1417.5 1140.1 L1436.1 1127.7 L1446.5 1121.5 L1461.0 1133.9 L1467.2 1146.3 L1473.5 1162.9 L1465.2 1171.2" fill="none" stroke="#2e3a32" stroke-width="2.6" stroke-linejoin="round"/>
<path d="M1284.8 1080.0 L1293.1 1092.4 L1305.5 1102.8 L1322.1 1113.2 L1328.3 1133.9 L1338.7 1146.3 L1344.9 1160.9 L1357.3 1167.1 L1365.6 1171.2 L1369.8 1162.9 L1388.4 1154.6 L1407.1 1150.5 L1417.5 1140.1 L1436.1 1127.7 L1446.5 1121.5 L1461.0 1133.9 L1467.2 1146.3 L1473.5 1162.9 L1465.2 1171.2" fill="none" stroke="#e8ece6" stroke-width="1.3" stroke-linejoin="round"/>
<path d="M1113.4 818.6 L1109.6 833.7 L1111.5 856.5 L1126.6 864.1 L1130.4 888.7 L1145.6 889.7 L1147.5 907.7 L1166.4 911.5 L1170.2 920.9 L1193.0 919.1 L1194.9 938.0 L1202.5 960.0" fill="none" stroke="#3c4a40" stroke-width="0.8" stroke-linejoin="round"/>
<path d="M1193.8 920.0 L1199.1 956.3 L1213.0 965.9 L1217.2 981.8 L1223.6 996.8 L1225.8 1026.6 L1221.5 1048.0 L1225.8 1067.2 L1255.6 1065.0 L1272.7 1073.6 L1285.5 1082.1 L1300.0 1094.9" fill="none" stroke="#3c4a40" stroke-width="0.8" stroke-linejoin="round"/>
<path d="M1022.1 936.0 L1040.2 946.7 L1050.9 942.4 L1059.4 946.7 L1068.0 943.5 L1072.2 950.9 L1097.8 955.2 L1106.3 965.9 L1117.0 976.5 L1121.3 982.9 L1134.1 985.0 L1153.3 996.8 L1163.9 986.1 L1174.6 975.4 L1195.9 971.2 L1213.0 965.9" fill="none" stroke="#3c4a40" stroke-width="0.8" stroke-linejoin="round"/>
<path d="M1447.2 1119.3 L1461.4 1126.4 L1485.1 1127.6 L1511.2 1126.4 L1527.8 1119.3 L1544.4 1114.6 L1563.3 1112.2" fill="none" stroke="#3c4a40" stroke-width="0.8" stroke-linejoin="round"/>
<path d="M1260.0 1067.2 L1274.2 1071.9 L1286.1 1083.8 L1302.7 1098.0 L1319.2 1107.5 L1328.7 1126.4 L1335.8 1140.7 L1338.2 1152.5 L1354.8 1164.4" fill="none" stroke="#3c4a40" stroke-width="0.8" stroke-linejoin="round"/>
<circle cx="1447" cy="1119" r="9" fill="url(#peak)"/>
</g>
<path d="M962.1 729.1 L1086.8 732.9 L1091.6 748.4 L1084.9 760.8 L1084.0 776.9 L1090.6 785.4 L1102.0 791.1 L1119.1 789.2 L1135.2 782.9 L1143.7 793.0 L1158.9 809.1 L1182.6 835.6 L1272.8 838.9 L1277.5 849.3 L1285.1 856.9 L1290.8 875.8 L1300.3 885.3 L1309.8 891.0 L1317.3 898.6 L1334.4 897.6 L1343.9 904.3 L1353.4 908.1 L1362.8 913.7 L1368.5 923.2 L1376.1 915.6 L1387.5 912.8 L1404.5 915.6 L1415.9 920.4 L1425.4 911.8 L1436.8 900.5 L1450.0 903.3 L1463.3 908.1 L1480.0 915.6 L1487.5 917.9 L1499.3 910.8 L1511.2 915.5 L1523.0 922.7 L1532.5 936.9 L1544.4 939.2 L1560.9 936.9 L1577.5 941.6 L1589.4 951.1 L1601.2 965.3 L1615.5 961.8 L1633.2 961.8 L1635.6 974.8 L1630.9 991.4 L1622.6 1000.9 L1623.7 1012.7 L1615.5 1026.9 L1603.6 1041.1 L1596.5 1050.6 L1600.0 1067.2 L1591.8 1081.4 L1579.9 1093.3 L1570.4 1105.1 L1563.3 1112.2 L1570.4 1113.4 L1577.5 1124.1 L1587.0 1140.7 L1594.1 1157.3 L1601.2 1169.1 L1594.1 1175.0 L1473.3 1172.7 L1448.6 1177.4 L1440.3 1185.7 L1427.8 1196.1 L1419.5 1204.4 L1411.2 1209.6 L1394.7 1206.5 L1378.1 1203.4 L1365.6 1199.2 L1357.3 1194.0 L1349.0 1195.1 L1336.6 1198.2 L1322.1 1196.1 L1303.4 1195.1 L1284.8 1193.0 L1266.1 1190.9 L1249.5 1187.8 L1232.9 1181.6 L1218.4 1172.3 L1208.1 1175.4 L1193.5 1169.2 L1185.2 1158.8 L1190.4 1148.4 L1189.4 1136.0 L1181.1 1131.8 L1177.0 1121.5 L1150.0 1124.6 L1136.2 1122.6 L1121.3 1117.3 L1110.6 1109.8 L1099.9 1101.3 L1097.8 1079.9 L1087.2 1069.3 L1076.5 1062.9 L1065.8 1056.5 L1062.6 1036.2 L1055.2 1030.9 L1040.2 1033.0 L1032.8 1024.5 L1033.8 1013.8 L1021.0 1003.2 L1013.6 992.5 L1014.6 984.0 L1004.0 969.1 L1001.8 954.1 L1010.4 941.3 L999.6 938.0 L988.2 924.7 L975.0 909.6 L963.6 894.4 L951.3 879.2 L948.4 860.3 L940.9 843.2 L933.6 830.0 L939.0 812.9 L952.2 803.4 L958.9 782.6 L957.9 765.5 L962.7 757.9 Z" fill="none" stroke="#46584c" stroke-width="1.1" stroke-linejoin="round"/>
<text x="995.8" y="794.5" font-size="13" font-weight="700" fill="#1a1a1a" stroke="#f4f4f0" stroke-width="2.8" stroke-linejoin="round" textLength="20.2" lengthAdjust="spacingAndGlyphs">KGI</text>
<text x="995.8" y="794.5" font-size="13" font-weight="700" fill="#1a1a1a" stroke="#1a1a1a" stroke-width="0.55" stroke-linejoin="round" textLength="20.2" lengthAdjust="spacingAndGlyphs">KGI</text>
<text x="971.6" y="812.0" font-size="13" font-weight="700" fill="#1a1a1a" stroke="#f4f4f0" stroke-width="2.8" stroke-linejoin="round" textLength="69.7" lengthAdjust="spacingAndGlyphs">WATERSHED</text>
<text x="971.6" y="812.0" font-size="13" font-weight="700" fill="#1a1a1a" stroke="#1a1a1a" stroke-width="0.55" stroke-linejoin="round" textLength="69.7" lengthAdjust="spacingAndGlyphs">WATERSHED</text>
<text x="1039.0" y="913.4" font-size="13" font-weight="700" fill="#1a1a1a" stroke="#f4f4f0" stroke-width="2.8" stroke-linejoin="round" textLength="116.0" lengthAdjust="spacingAndGlyphs">CHAMBERS-CLOVER</text>
<text x="1039.0" y="913.4" font-size="13" font-weight="700" fill="#1a1a1a" stroke="#1a1a1a" stroke-width="0.55" stroke-linejoin="round" textLength="116.0" lengthAdjust="spacingAndGlyphs">CHAMBERS-CLOVER</text>
<text x="1061.8" y="930.8" font-size="13" font-weight="700" fill="#1a1a1a" stroke="#f4f4f0" stroke-width="2.8" stroke-linejoin="round" textLength="70.2" lengthAdjust="spacingAndGlyphs">WATERSHED</text>
<text x="1061.8" y="930.8" font-size="13" font-weight="700" fill="#1a1a1a" stroke="#1a1a1a" stroke-width="0.55" stroke-linejoin="round" textLength="70.2" lengthAdjust="spacingAndGlyphs">WATERSHED</text>
<text x="1348.0" y="1005.6" font-size="13" font-weight="700" fill="#1a1a1a" stroke="#f4f4f0" stroke-width="2.8" stroke-linejoin="round" textLength="60.6" lengthAdjust="spacingAndGlyphs">PUYALLUP</text>
<text x="1348.0" y="1005.6" font-size="13" font-weight="700" fill="#1a1a1a" stroke="#1a1a1a" stroke-width="0.55" stroke-linejoin="round" textLength="60.6" lengthAdjust="spacingAndGlyphs">PUYALLUP</text>
<text x="1343.4" y="1022.9" font-size="13" font-weight="700" fill="#1a1a1a" stroke="#f4f4f0" stroke-width="2.8" stroke-linejoin="round" textLength="70.1" lengthAdjust="spacingAndGlyphs">WATERSHED</text>
<text x="1343.4" y="1022.9" font-size="13" font-weight="700" fill="#1a1a1a" stroke="#1a1a1a" stroke-width="0.55" stroke-linejoin="round" textLength="70.1" lengthAdjust="spacingAndGlyphs">WATERSHED</text>
<text x="1152.0" y="1085.3" font-size="13" font-weight="700" fill="#1a1a1a" stroke="#f4f4f0" stroke-width="2.8" stroke-linejoin="round" textLength="65.0" lengthAdjust="spacingAndGlyphs">NISQUALLY</text>
<text x="1152.0" y="1085.3" font-size="13" font-weight="700" fill="#1a1a1a" stroke="#1a1a1a" stroke-width="0.55" stroke-linejoin="round" textLength="65.0" lengthAdjust="spacingAndGlyphs">NISQUALLY</text>
<text x="1150.0" y="1102.3" font-size="13" font-weight="700" fill="#1a1a1a" stroke="#f4f4f0" stroke-width="2.8" stroke-linejoin="round" textLength="70.4" lengthAdjust="spacingAndGlyphs">WATERSHED</text>
<text x="1150.0" y="1102.3" font-size="13" font-weight="700" fill="#1a1a1a" stroke="#1a1a1a" stroke-width="0.55" stroke-linejoin="round" textLength="70.4" lengthAdjust="spacingAndGlyphs">WATERSHED</text>
<text x="1503.0" y="1141.0" font-size="13" font-weight="700" fill="#1a1a1a" stroke="#f4f4f0" stroke-width="2.8" stroke-linejoin="round" textLength="52.0" lengthAdjust="spacingAndGlyphs">COWLITZ</text>
<text x="1503.0" y="1141.0" font-size="13" font-weight="700" fill="#1a1a1a" stroke="#1a1a1a" stroke-width="0.55" stroke-linejoin="round" textLength="52.0" lengthAdjust="spacingAndGlyphs">COWLITZ</text>
<text x="1493.4" y="1158.4" font-size="13" font-weight="700" fill="#1a1a1a" stroke="#f4f4f0" stroke-width="2.8" stroke-linejoin="round" textLength="70.6" lengthAdjust="spacingAndGlyphs">WATERSHED</text>
<text x="1493.4" y="1158.4" font-size="13" font-weight="700" fill="#1a1a1a" stroke="#1a1a1a" stroke-width="0.55" stroke-linejoin="round" textLength="70.6" lengthAdjust="spacingAndGlyphs">WATERSHED</text>
</svg>
<div class="ln note" style="left:55.5px;top:68.4px;letter-spacing:-1.719px">*Note Stream Team is missing data</div>
<div class="ln note" style="left:56.0px;top:102.4px;letter-spacing:-0.735px">from <i class="o">2</i><i class="o">0</i><i class="o">2</i><i class="o">0</i> due to COVID restrictions</div>
<div class="ln note" style="left:56.0px;top:135.4px;letter-spacing:-1.385px">on monitoring.</div>
<div class="ln title" style="left:556.0px;top:44.0px;letter-spacing:-2.833px">LOCAL WATER QUALITY</div>
<div class="ln q" style="left:54.6px;top:249.2px;letter-spacing:-0.867px">“The Nisqually Watershed drains land from the Nisqually River and includes the communities of Ashford, Elbe,</div>
<div class="ln q" style="left:56.0px;top:288.6px;letter-spacing:-0.796px">Mineral, Eatonville, McKenna, Roy, Yelm, Fort Lewis and portions of Graham, Lacey, DuPont, and Rainier.”</div>
<div class="ln q" style="left:56.5px;top:328.0px;letter-spacing:-0.597px">(Quote from the Nisqually River Council: http://nisquallyriver.org/)</div>
<div class="ln h" style="left:921.0px;top:413.2px;letter-spacing:-0.222px">Volunteer Monitors: Charlie Butler and Daniel Miszewski</div>
<div class="ln r" style="left:921.5px;top:487.1px;letter-spacing:0.421px">The Mashel River is the largest tributary to the Nisqually</div>
<div class="ln r" style="left:919.5px;top:523.7px;letter-spacing:0.421px">River. It flows approximately <i class="o d">3</i><i class="o">2</i> miles from its headwaters</div>
<div class="ln r" style="left:919.5px;top:560.3px;letter-spacing:0.360px">near Mt. Rainier to the Nisqually River. The Mashel</div>
<div class="ln r" style="left:920.5px;top:596.9px;letter-spacing:0.385px">supports runs of fall Chinook, coho, pink salmon, and</div>
<div class="ln r" style="left:921.5px;top:633.5px;letter-spacing:0.375px">winter steelhead. Mashel Site <i class="o d">5</i>.<i class="o d">5</i> is located at Smallwood</div>
<div class="ln r" style="left:919.5px;top:670.1px;letter-spacing:0.250px">Park, Eatonville.</div>
<div class="ln mt" style="left:1162.1px;top:735.5px;letter-spacing:0.487px">PIERCE COUNTY WATERSHEDS</div>
<div class="ln h" style="left:921.1px;top:1235.0px;letter-spacing:-0.319px">Volunteer Monitors: Brad & Julia Nickel and Tara Larsen</div>
<div class="ln r" style="left:920.1px;top:1309.0px;letter-spacing:0.494px">Ohop Creek flows approximately <i class="o">1</i><i class="o">2</i> miles from its</div>
<div class="ln r" style="left:920.1px;top:1345.6px;letter-spacing:0.536px">headwaters to the confluence with the Nisqually River.</div>
<div class="ln r" style="left:920.1px;top:1382.2px;letter-spacing:0.331px">Coho, fall Chinook, and pink salmon are all known to use</div>
<div class="ln r" style="left:920.1px;top:1418.8px;letter-spacing:0.578px">Ohop Creek and its tributaries. Ohop Site <i class="o">2</i>.<i class="o d">7</i> is on the</div>
<div class="ln r" style="left:920.1px;top:1455.4px;letter-spacing:0.345px">Grauwen Farm, owned by the Nisqually Land Trust.</div>
<div class="ln b" style="left:50.2px;top:1557.6px;letter-spacing:-0.016px">Volunteer collected data from <i class="o">2</i><i class="o">0</i><i class="o">2</i><i class="o">0</i> for</div>
<div class="ln b" style="left:50.2px;top:1594.2px;letter-spacing:-0.676px">dissolved oxygen and water temperature</div>
<div class="ln b" style="left:49.2px;top:1630.8px;letter-spacing:-0.815px">is shown above. For both the Mashel River</div>
<div class="ln b" style="left:49.2px;top:1667.4px;letter-spacing:-0.606px">and Ohop Creek the dissolved oxygen</div>
<div class="ln b" style="left:50.2px;top:1704.0px;letter-spacing:-0.719px">state standard is ·<i class="o d">9</i>.<i class="o d">5</i> mg/l. The water</div>
<div class="ln b" style="left:50.2px;top:1740.6px;letter-spacing:-0.400px">temperature standard for the Mashel</div>
<div class="ln b" style="left:48.2px;top:1777.2px;letter-spacing:-1.015px">River is ·<i class="o">1</i><i class="o">2</i>°C, while Ohop Creek is ·<i class="o">1</i><i class="o d">3</i>°C</div>
<div class="ln b" style="left:50.2px;top:1813.8px;letter-spacing:-0.646px">except during the summer months when</div>
<div class="ln b" style="left:50.2px;top:1850.4px;letter-spacing:-1.171px">the standard is ·<i class="o">1</i>6°C.</div>
<div class="ln b" style="left:50.2px;top:1923.6px;letter-spacing:-0.613px">The Mashel River did not meet the</div>
<div class="ln b" style="left:50.2px;top:1960.2px;letter-spacing:-0.760px">dissolved oxygen standard during the</div>
<div class="ln b" style="left:48.2px;top:1996.8px;letter-spacing:-0.312px">December <i class="o">2</i><i class="o">0</i><i class="o">2</i><i class="o">0</i> monitoring. Sometimes</div>
<div class="ln b" style="left:49.2px;top:2033.4px;letter-spacing:-0.538px">low dissolved oxygen during the fall/winter</div>
<div class="ln b" style="left:50.2px;top:2070.0px;letter-spacing:-0.541px">can indicate vegetation decomposition,</div>
<div class="ln b" style="left:594.0px;top:1557.6px;letter-spacing:-0.732px">excess nutrients, or low flow. Though this</div>
<div class="ln b" style="left:594.0px;top:1594.2px;letter-spacing:-0.525px">site typically has strong flow throughout</div>
<div class="ln b" style="left:595.0px;top:1630.8px;letter-spacing:-0.561px">the year. Anomalies do occur in the field.</div>
<div class="ln b" style="left:595.0px;top:1667.4px;letter-spacing:-0.758px">The Mashel River also did not meet</div>
<div class="ln b" style="left:595.0px;top:1704.0px;letter-spacing:-0.361px">the water temperature standard during</div>
<div class="ln b" style="left:595.0px;top:1740.6px;letter-spacing:-0.152px">the September <i class="o">2</i><i class="o">0</i><i class="o">2</i><i class="o">0</i> monitoring when</div>
<div class="ln b" style="left:594.0px;top:1777.2px;letter-spacing:-0.633px">summer ambient temperatures are</div>
<div class="ln b" style="left:595.0px;top:1813.8px;letter-spacing:-0.432px">typically warmer. The monitor noted the</div>
<div class="ln b" style="left:595.0px;top:1850.4px;letter-spacing:-0.634px">water level was low on this date. Monitors</div>
<div class="ln b" style="left:593.0px;top:1887.0px;letter-spacing:-0.676px">have also observed macroinvertebrates,</div>
<div class="ln b" style="left:593.0px;top:1923.6px;letter-spacing:-0.765px">bald eagles and trash at this site.</div>
<div class="ln b" style="left:594.0px;top:1996.8px;letter-spacing:-0.312px">Ohop Creek met both the dissolved</div>
<div class="ln b" style="left:594.0px;top:2033.4px;letter-spacing:-0.622px">oxygen and water temperature standards</div>
<div class="ln b" style="left:594.0px;top:2070.0px;letter-spacing:-0.486px">during the monitoring events. Monitors</div>
<div class="ln b" style="left:1137.5px;top:1557.6px;letter-spacing:-0.553px">have noted fluctuating water levels and</div>
<div class="ln b" style="left:1137.5px;top:1594.2px;letter-spacing:-0.347px">beaver activity.</div>
<div class="ln b" style="left:1137.5px;top:1667.4px;letter-spacing:-0.497px">Both the Mashel River and Ohop Creek</div>
<div class="ln b" style="left:1138.5px;top:1704.0px;letter-spacing:-0.606px">are important salmon-bearing water</div>
<div class="ln b" style="left:1137.5px;top:1740.6px;letter-spacing:-0.515px">bodies in the Nisqually Watershed.</div>
<div class="ln b" style="left:1137.5px;top:1777.2px;letter-spacing:-0.316px">Multiple restoration projects have been</div>
<div class="ln b" style="left:1138.5px;top:1813.8px;letter-spacing:-0.541px">completed over the years by the Pierce</div>
<div class="ln b" style="left:1138.5px;top:1850.4px;letter-spacing:-0.317px">Conservation District and our partner</div>
<div class="ln b" style="left:1139.5px;top:1887.0px;letter-spacing:-0.530px">the Nisqually River Foundation to restore</div>
<div class="ln b" style="left:1137.5px;top:1923.6px;letter-spacing:-0.491px">healthy habitat. Nisqually Watershed</div>
<div class="ln b" style="left:1139.5px;top:1960.2px;letter-spacing:-0.297px">volunteer opportunities can be found</div>
<div class="ln b" style="left:1137.5px;top:1996.8px;letter-spacing:-1.409px">here: <b>nisquallyriver.org</b></div>
<div class="ln fn" style="left:49.5px;top:2134.5px;letter-spacing:-2.200px">15</div>
<div class="ln ft" style="left:87.1px;top:2128.2px;letter-spacing:-1.821px">THE TAHOMA VIEW | SPRING <i class="o">2</i><i class="o">0</i><i class="o">2</i><i class="o">1</i></div>
</div></body></html>
